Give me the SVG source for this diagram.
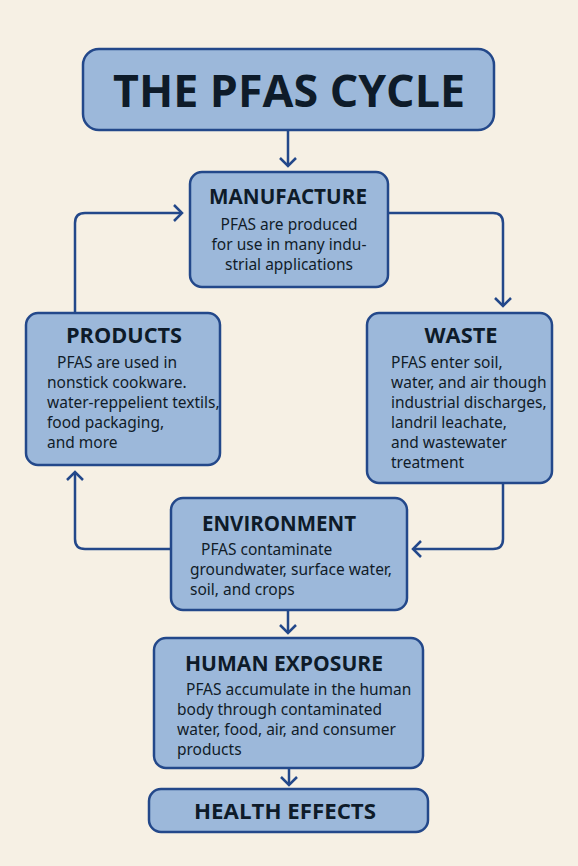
<svg xmlns="http://www.w3.org/2000/svg" width="578" height="866" viewBox="0 0 578 866">
<style>
.box{fill:#9cb8da;stroke:#23488a;stroke-width:2.5}
.h{font-family:"Open Sans","Noto Sans","DejaVu Sans",sans-serif;font-weight:700;fill:#0e1b29}
.b{font-family:"Noto Sans","Open Sans","DejaVu Sans",sans-serif;font-size:15.5px;fill:#111c28}
.c{fill:none;stroke:#23488a;stroke-width:2.5}
</style>
<defs>
<marker id="arr" viewBox="0 0 20 20" refX="10" refY="10" markerWidth="20" markerHeight="20" markerUnits="userSpaceOnUse" orient="auto">
<path d="M2,2 L10,10 L2,18" fill="none" stroke="#23488a" stroke-width="2.5"/>
</marker>
</defs>
<rect width="578" height="866" fill="#f6f0e4"/>
<g id="connectors" class="c">
<line x1="288" y1="130" x2="288" y2="166" marker-end="url(#arr)"/>
<path d="M75,313 V223 Q75,213 85,213 H182" marker-end="url(#arr)"/>
<path d="M388,213 H493 Q503,213 503,223 V306" marker-end="url(#arr)"/>
<path d="M503,483 V539 Q503,549 493,549 H413" marker-end="url(#arr)"/>
<path d="M171,549 H85 Q75,549 75,539 V472" marker-end="url(#arr)"/>
<line x1="288" y1="610" x2="288" y2="633" marker-end="url(#arr)"/>
<line x1="289" y1="768" x2="289" y2="785" marker-end="url(#arr)"/>
</g>
<g id="title">
<rect class="box" x="83" y="49" width="411" height="81" rx="16"/>
<text class="h" x="289" y="107" font-size="44" text-anchor="middle" textLength="352" lengthAdjust="spacingAndGlyphs">THE PFAS CYCLE</text>
</g>
<g id="manufacture">
<rect class="box" x="190" y="172" width="198" height="115" rx="12"/>
<text class="h" x="288" y="204" font-size="21" text-anchor="middle" textLength="158" lengthAdjust="spacingAndGlyphs">MANUFACTURE</text>
<text class="b" x="289" y="230" text-anchor="middle">PFAS are produced</text>
<text class="b" x="289" y="250" text-anchor="middle">for use in many indu-</text>
<text class="b" x="289" y="270" text-anchor="middle">strial applications</text>
</g>
<g id="products">
<rect class="box" x="26" y="313" width="194" height="152" rx="12"/>
<text class="h" x="124" y="343" font-size="21" text-anchor="middle" textLength="116" lengthAdjust="spacingAndGlyphs">PRODUCTS</text>
<text class="b" x="57" y="368">PFAS are used in</text>
<text class="b" x="47" y="388">nonstick cookware.</text>
<text class="b" x="47" y="408">water-reppelient textils,</text>
<text class="b" x="47" y="428">food packaging,</text>
<text class="b" x="47" y="448">and more</text>
</g>
<g id="waste">
<rect class="box" x="367" y="313" width="185" height="170" rx="12"/>
<text class="h" x="461" y="343" font-size="21" text-anchor="middle" textLength="73" lengthAdjust="spacingAndGlyphs">WASTE</text>
<text class="b" x="391" y="368">PFAS enter soil,</text>
<text class="b" x="391" y="388">water, and air though</text>
<text class="b" x="391" y="408">industrial discharges,</text>
<text class="b" x="391" y="428">landril leachate,</text>
<text class="b" x="391" y="448">and wastewater</text>
<text class="b" x="391" y="468">treatment</text>
</g>
<g id="environment">
<rect class="box" x="171" y="498" width="236" height="112" rx="12"/>
<text class="h" x="202" y="531" font-size="21" textLength="154" lengthAdjust="spacingAndGlyphs">ENVIRONMENT</text>
<text class="b" x="201" y="555">PFAS contaminate</text>
<text class="b" x="190" y="575">groundwater, surface water,</text>
<text class="b" x="190" y="595">soil, and crops</text>
</g>
<g id="human-exposure">
<rect class="box" x="154" y="638" width="269" height="130" rx="12"/>
<text class="h" x="185" y="671" font-size="21" textLength="198" lengthAdjust="spacingAndGlyphs">HUMAN EXPOSURE</text>
<text class="b" x="186" y="695">PFAS accumulate in the human</text>
<text class="b" x="177" y="715">body through contaminated</text>
<text class="b" x="177" y="735">water, food, air, and consumer</text>
<text class="b" x="177" y="755">products</text>
</g>
<g id="health-effects">
<rect class="box" x="149" y="789" width="279" height="43" rx="12"/>
<text class="h" x="285" y="819" font-size="22" text-anchor="middle" textLength="182" lengthAdjust="spacingAndGlyphs">HEALTH EFFECTS</text>
</g>
</svg>
